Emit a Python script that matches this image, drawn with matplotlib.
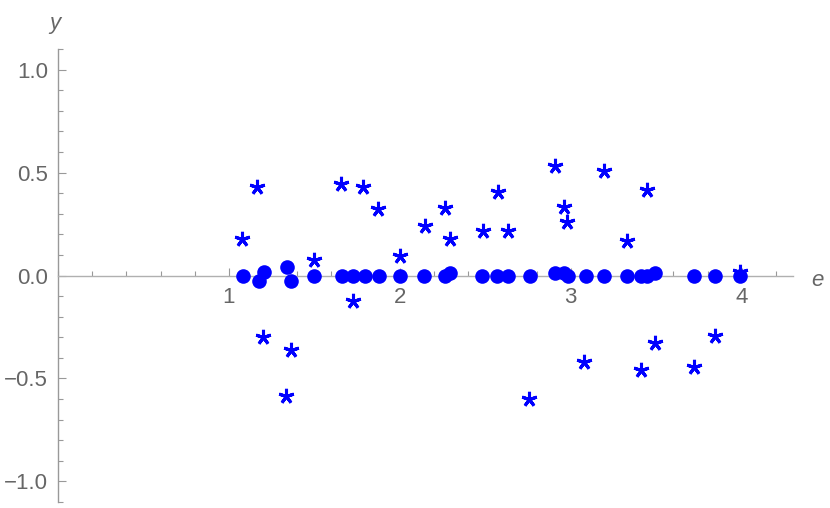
import matplotlib
matplotlib.use("Agg")
import matplotlib.pyplot as plt
from matplotlib.ticker import MultipleLocator, FixedLocator

# Data
dot_e = [1.082, 1.175, 1.205, 1.337, 1.365, 1.499, 1.661, 1.727, 1.794, 1.877, 1.998,
         2.144, 2.267, 2.296, 2.482, 2.570, 2.632, 2.764, 2.910, 2.959, 2.982, 3.090, 3.197,
         3.330, 3.408, 3.443, 3.495, 3.723, 3.844, 3.992]
dot_y = [0.0, -0.027, 0.019, 0.042, -0.029, 0.0, 0.0, 0.0, 0.0, 0.0, 0.0,
         0.0, 0.0, 0.01, 0.0, 0.0, 0.0, 0.0, 0.01, 0.01, 0.0, 0.0, 0.0,
         0.0, 0.0, 0.0, 0.01, 0.0, 0.0, 0.0]
star_e = [1.076, 1.166, 1.201, 1.334, 1.363, 1.499, 1.653, 1.727, 1.786, 1.874, 2.000,
          2.146, 2.267, 2.291, 2.485, 2.575, 2.634, 2.754, 2.905, 2.963, 2.979, 3.080, 3.193,
          3.326, 3.412, 3.443, 3.495, 3.720, 3.842, 3.989]
star_y = [0.177, 0.431, -0.301, -0.583, -0.362, 0.077, 0.444, -0.124, 0.431, 0.322, 0.093,
          0.242, 0.327, 0.179, 0.214, 0.404, 0.217, -0.599, 0.533, 0.335, 0.262, -0.419, 0.507,
          0.169, -0.459, 0.415, -0.330, -0.443, -0.293, 0.016]
x_ticks = [1, 2, 3, 4]
y_ticks = [-1.0, -0.5, 0.0, 0.5, 1.0]
y_tick_labels = ["\u22121.0", "\u22120.5", "0.0", "0.5", "1.0"]

plt.rcParams['font.family'] = ['Liberation Sans', 'DejaVu Sans']

fig = plt.figure(figsize=(8.30, 5.08), dpi=100)
ax = fig.add_axes([58/830, 6/508, 735/830, 453/508])
ax.set_xlim(0, 4.3)
ax.set_ylim(-1.1, 1.1)

blue = '#0000ff'
ax.plot(star_e, star_y, linestyle='none', marker=(5, 2, 0), markersize=11,
        markeredgewidth=2.2, color=blue, zorder=3, clip_on=False)
ax.plot(dot_e, dot_y, linestyle='none', marker='o', markersize=10.5,
        color=blue, markeredgewidth=0, zorder=4, clip_on=False)

for s in ['top', 'right']:
    ax.spines[s].set_visible(False)
ax.spines['left'].set_position(('data', 0))
ax.spines['bottom'].set_position(('data', 0))
ax.spines['left'].set_color('#999999')
ax.spines['bottom'].set_color('#b0b0b0')
ax.spines['left'].set_linewidth(1.0)
ax.spines['bottom'].set_linewidth(1.0)

ax.xaxis.set_major_locator(FixedLocator(x_ticks))
ax.xaxis.set_minor_locator(MultipleLocator(0.2))
ax.yaxis.set_major_locator(FixedLocator(y_ticks))
ax.yaxis.set_minor_locator(MultipleLocator(0.1))
ax.set_yticklabels(y_tick_labels)

ax.tick_params(axis='both', which='major', direction='in', length=6, width=0.8,
               color='#999999', labelcolor='#666666', labelsize=16)
ax.tick_params(axis='both', which='minor', direction='in', length=3.6, width=0.8,
               color='#999999')
ax.tick_params(axis='x', which='major', pad=8.5)
ax.tick_params(axis='y', which='major', pad=7)

fig.text(55/830, 1 - 23/508, 'y', style='italic', color='#666666', fontsize=16,
         ha='center', va='center')
fig.text(817/830, 1 - 280/508, 'e', style='italic', color='#666666', fontsize=16,
         ha='center', va='center')

fig.savefig('out.png', dpi=100)
